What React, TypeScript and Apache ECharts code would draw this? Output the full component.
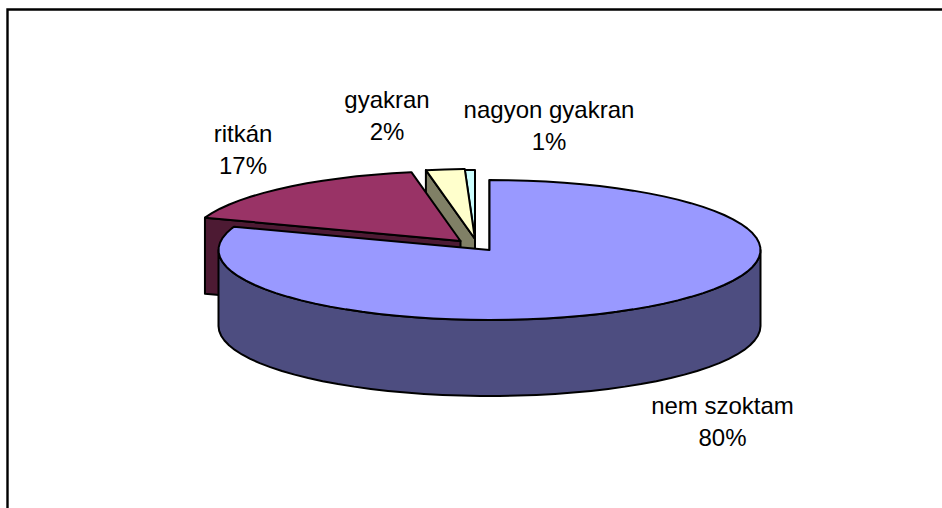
import React, { useEffect, useRef } from "react";
import * as echarts from "echarts";

const categories = ["nem szoktam", "ritkán", "gyakran", "nagyon gyakran"];
const values = [80.4, 16.7, 2.3, 0.6];

const topColors = ["#9999FF", "#993366", "#FFFFCC", "#CCFFFF"];
const sideColors = ["#4D4D80", "#4D1A33", "#808066", "#668080"];
const apexes = [[489.5, 250], [460.5, 241], [475, 239], [475, 240]];
const labelCenters = [[722.5, 421], [243, 149], [387, 115], [549, 125]];

const RX = 271;
const RY = 70;
const DEPTH = 76;
const FONT = "'Liberation Sans', Arial, sans-serif";

function pt(a: number[], deg: number, drop = 0): number[] {
  const t = (deg * Math.PI) / 180;
  return [a[0] + RX * Math.sin(t), a[1] - RY * Math.cos(t) + drop];
}

function arc(a: number[], from: number, to: number, drop = 0): number[][] {
  const out: number[][] = [];
  const step = 4;
  for (let d = from; d < to; d += step) out.push(pt(a, d, drop));
  out.push(pt(a, to, drop));
  return out;
}

function App() {
  const ref = useRef<HTMLDivElement>(null);
  useEffect(() => {
    document.body.style.margin = "0";
    const chart = echarts.init(ref.current!, undefined, { renderer: "svg" });
    const total = values.reduce((s, v) => s + v, 0);
    const starts: number[] = [];
    values.reduce((acc, v, i) => {
      starts[i] = acc;
      return acc + (v / total) * 360;
    }, 0);
    const order = categories.map((_, i) => i).reverse();
    const stroke = { stroke: "#000", lineWidth: 2, lineJoin: "round" };

    chart.setOption({
      animation: false,
      backgroundColor: "#fff",
      graphic: [
        {
          type: "polyline",
          shape: { points: [[7.5, 508], [7.5, 9.5], [942, 9.5]] },
          style: { stroke: "#000", lineWidth: 2.4, fill: "none" },
          silent: true,
        },
      ],
      series: [
        {
          type: "custom",
          coordinateSystem: "none",
          silent: true,
          data: order.map((i) => ({ name: categories[i], value: values[i] })),
          renderItem: (params: any) => {
            const i = order[params.dataIndex];
            const a = apexes[i];
            const s = starts[i];
            const e = s + (values[i] / total) * 360;
            const children: any[] = [];
            // cut face at the slice's start edge
            children.push({
              type: "polygon",
              shape: {
                points: [a, pt(a, s), pt(a, s, DEPTH), [a[0], a[1] + DEPTH]],
              },
              style: { fill: sideColors[i], ...stroke },
            });
            // outer wall, front half only
            const wFrom = Math.max(s, 90);
            const wTo = Math.min(e, 270);
            if (wTo > wFrom) {
              children.push({
                type: "polygon",
                shape: {
                  points: [
                    ...arc(a, wFrom, wTo),
                    ...arc(a, wFrom, wTo, DEPTH).reverse(),
                  ],
                },
                style: { fill: sideColors[i], ...stroke },
              });
            }
            // top face
            children.push({
              type: "polygon",
              shape: { points: [a, ...arc(a, s, e)] },
              style: { fill: topColors[i], ...stroke },
            });
            return { type: "group", children };
          },
        },
        {
          type: "custom",
          coordinateSystem: "none",
          silent: true,
          z: 5,
          data: categories.map((c, i) => ({ name: c, value: values[i] })),
          renderItem: (params: any) => {
            const i = params.dataIndex;
            return {
              type: "text",
              x: labelCenters[i][0],
              y: labelCenters[i][1],
              style: {
                text: `${categories[i]}\n${Math.round(values[i])}%`,
                fill: "#000",
                font: `24px ${FONT}`,
                lineHeight: 32,
                align: "center",
                verticalAlign: "middle",
              },
            };
          },
        },
      ],
    });
    return () => chart.dispose();
  }, []);
  return <div ref={ref} style={{ position: "absolute", left: 0, top: 0, width: 942, height: 508 }} />;
}

export default App;
